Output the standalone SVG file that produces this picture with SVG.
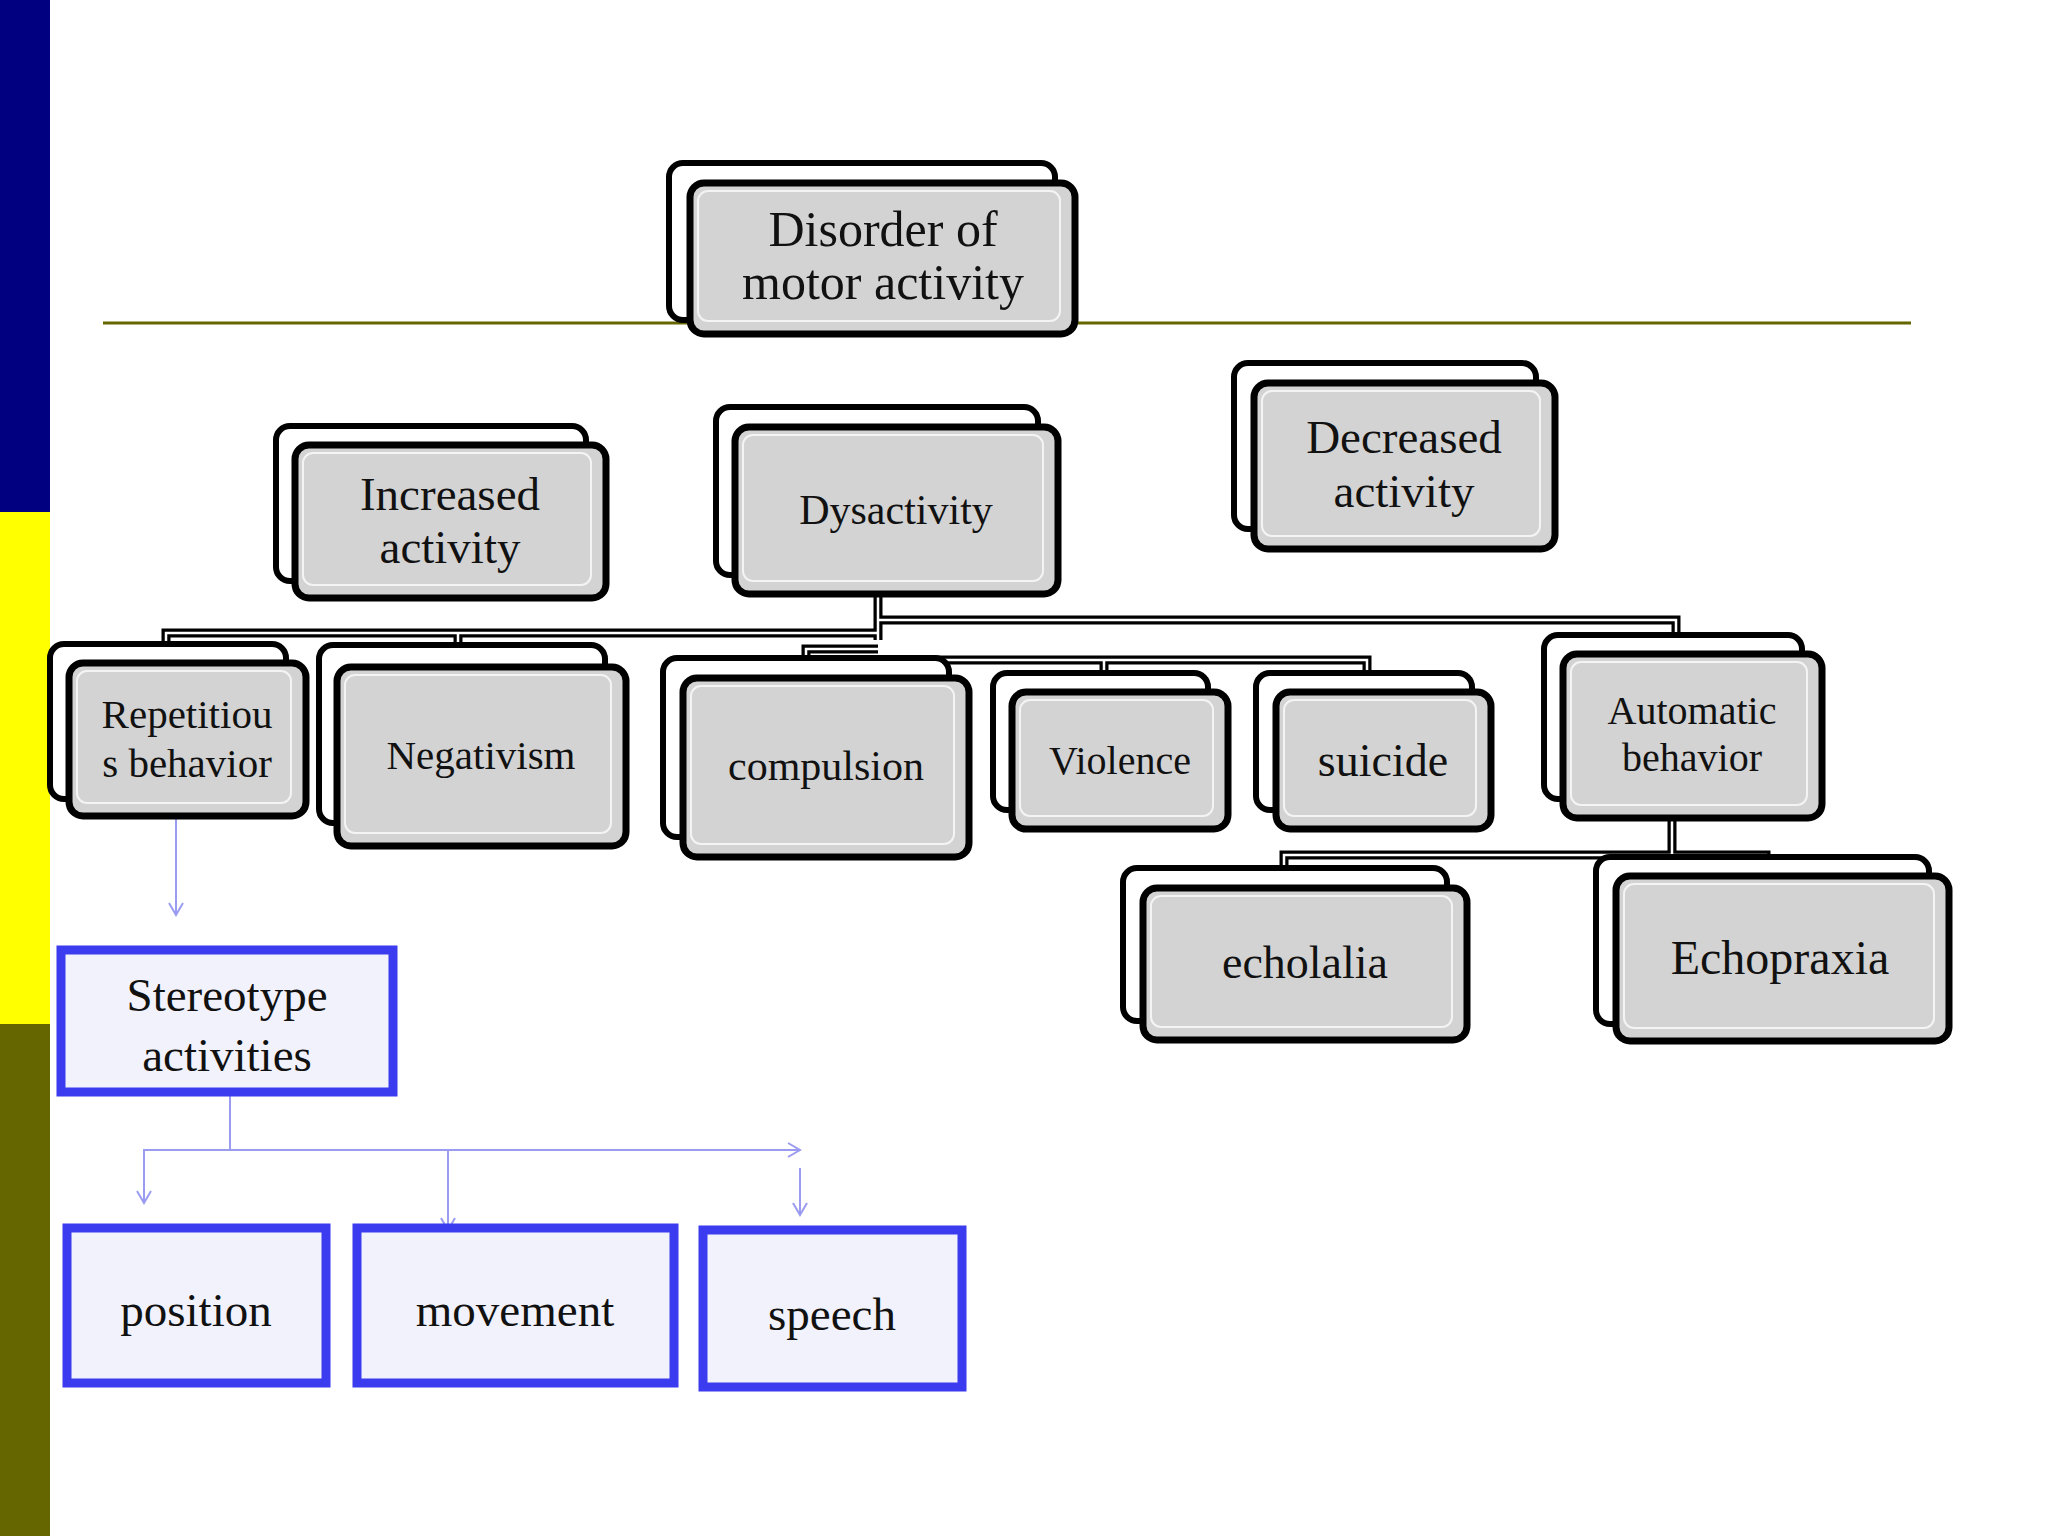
<svg xmlns="http://www.w3.org/2000/svg" width="2048" height="1536" viewBox="0 0 2048 1536">
<style>
.bk{fill:#fff;stroke:#000;stroke-width:6}
.fr{fill:#d3d3d3;stroke:#000;stroke-width:7}
.in{fill:none;stroke:#f4f4f4;stroke-width:2}
.t{font-family:"Liberation Serif",serif;text-anchor:middle;fill:#111}
.cb{fill:none;stroke:#000;stroke-width:9}
.cw{fill:none;stroke:#fff;stroke-width:2.5}
.bx{fill:#f2f2fc;stroke:#3b3bef;stroke-width:9}
.la{fill:none;stroke:#9b9bf0;stroke-width:2}
</style>
<defs><marker id="v" markerWidth="16" markerHeight="16" refX="14" refY="8" orient="auto" markerUnits="userSpaceOnUse"><path d="M2,1 L14,8 L2,15" fill="none" stroke="#9b9bf0" stroke-width="2"/></marker></defs>
<rect width="2048" height="1536" fill="#fff"/>
<rect x="0" y="0" width="50" height="512" fill="#000080"/>
<rect x="0" y="512" width="50" height="512" fill="#ffff00"/>
<rect x="0" y="1024" width="50" height="512" fill="#666600"/>
<line x1="103" y1="323" x2="1911" y2="323" stroke="#666600" stroke-width="3"/>
<g id="connectors">
<path class="cb" d="M878,594V640M166,644V633H878M458,645V633M878,620H1676V635M806,658V649H878M878,660H1367V673M1104,673V660M1672,818V855M1284,868V855H1766V857"/>
<path class="cw" d="M878,594V640M166,644V633H878M458,645V633M878,620H1676V635M806,658V649H878M878,660H1367V673M1104,673V660M1672,818V855M1284,868V855H1766V857"/>
<path class="la" d="M176,816V915" marker-end="url(#v)"/>
<path class="la" d="M230,1092V1150H144V1203" marker-end="url(#v)"/>
<path class="la" d="M230,1150H800" marker-end="url(#v)"/>
<path class="la" d="M448,1150V1230" marker-end="url(#v)"/>
<path class="la" d="M800,1168V1215" marker-end="url(#v)"/>
</g>
<g id="disorder"><rect class="bk" x="669" y="163" width="386" height="157" rx="14"/><rect class="fr" x="690" y="183" width="385" height="151" rx="14"/><rect class="in" x="698" y="191" width="362" height="130" rx="10"/><text class="t" x="883" y="246" font-size="50">Disorder of</text><text class="t" x="883" y="299" font-size="50">motor activity</text></g>
<g id="increased"><rect class="bk" x="276" y="426" width="310" height="155" rx="14"/><rect class="fr" x="295" y="445" width="311" height="153" rx="14"/><rect class="in" x="303" y="453" width="288" height="132" rx="10"/><text class="t" x="450" y="510" font-size="47">Increased</text><text class="t" x="450" y="563" font-size="47">activity</text></g>
<g id="dysactivity"><rect class="bk" x="716" y="407" width="322" height="168" rx="14"/><rect class="fr" x="735" y="427" width="323" height="167" rx="14"/><rect class="in" x="743" y="435" width="300" height="146" rx="10"/><text class="t" x="896" y="524" font-size="42">Dysactivity</text></g>
<g id="decreased"><rect class="bk" x="1234" y="363" width="302" height="166" rx="14"/><rect class="fr" x="1254" y="383" width="301" height="166" rx="14"/><rect class="in" x="1262" y="391" width="278" height="145" rx="10"/><text class="t" x="1404" y="453" font-size="47">Decreased</text><text class="t" x="1404" y="507" font-size="47">activity</text></g>
<g id="repetitious"><rect class="bk" x="50" y="644" width="236" height="155" rx="14"/><rect class="fr" x="69" y="663" width="237" height="153" rx="14"/><rect class="in" x="77" y="671" width="214" height="132" rx="10"/><text class="t" x="187" y="728" font-size="41">Repetitiou</text><text class="t" x="187" y="777" font-size="41">s behavior</text></g>
<g id="negativism"><rect class="bk" x="319" y="645" width="286" height="178" rx="14"/><rect class="fr" x="337" y="667" width="289" height="179" rx="14"/><rect class="in" x="345" y="675" width="266" height="158" rx="10"/><text class="t" x="481" y="769" font-size="41">Negativism</text></g>
<g id="compulsion"><rect class="bk" x="663" y="658" width="286" height="179" rx="14"/><rect class="fr" x="683" y="678" width="286" height="179" rx="14"/><rect class="in" x="691" y="686" width="263" height="158" rx="10"/><text class="t" x="826" y="780" font-size="42">compulsion</text></g>
<g id="violence"><rect class="bk" x="993" y="673" width="215" height="137" rx="14"/><rect class="fr" x="1012" y="692" width="216" height="137" rx="14"/><rect class="in" x="1020" y="700" width="193" height="116" rx="10"/><text class="t" x="1120" y="774" font-size="40">Violence</text></g>
<g id="suicide"><rect class="bk" x="1256" y="673" width="216" height="137" rx="14"/><rect class="fr" x="1276" y="692" width="215" height="137" rx="14"/><rect class="in" x="1284" y="700" width="192" height="116" rx="10"/><text class="t" x="1383" y="776" font-size="46">suicide</text></g>
<g id="automatic"><rect class="bk" x="1544" y="635" width="258" height="164" rx="14"/><rect class="fr" x="1563" y="654" width="259" height="164" rx="14"/><rect class="in" x="1571" y="662" width="236" height="143" rx="10"/><text class="t" x="1692" y="724" font-size="40">Automatic</text><text class="t" x="1692" y="771" font-size="40">behavior</text></g>
<g id="echolalia"><rect class="bk" x="1123" y="868" width="324" height="153" rx="14"/><rect class="fr" x="1143" y="888" width="324" height="152" rx="14"/><rect class="in" x="1151" y="896" width="301" height="131" rx="10"/><text class="t" x="1305" y="978" font-size="46">echolalia</text></g>
<g id="echopraxia"><rect class="bk" x="1596" y="857" width="333" height="167" rx="14"/><rect class="fr" x="1616" y="876" width="333" height="165" rx="14"/><rect class="in" x="1624" y="884" width="310" height="144" rx="10"/><text class="t" x="1780" y="974" font-size="48">Echopraxia</text></g>
<g id="stereotype"><rect class="bx" x="61" y="950" width="332" height="142"/><text class="t" x="227" y="1011" font-size="47">Stereotype</text><text class="t" x="227" y="1071" font-size="47">activities</text></g>
<g id="position"><rect class="bx" x="67" y="1228" width="259" height="155"/><text class="t" x="196" y="1326" font-size="47">position</text></g>
<g id="movement"><rect class="bx" x="357" y="1228" width="317" height="155"/><text class="t" x="515" y="1326" font-size="47">movement</text></g>
<g id="speech"><rect class="bx" x="703" y="1230" width="259" height="157"/><text class="t" x="832" y="1330" font-size="47">speech</text></g>
</svg>
